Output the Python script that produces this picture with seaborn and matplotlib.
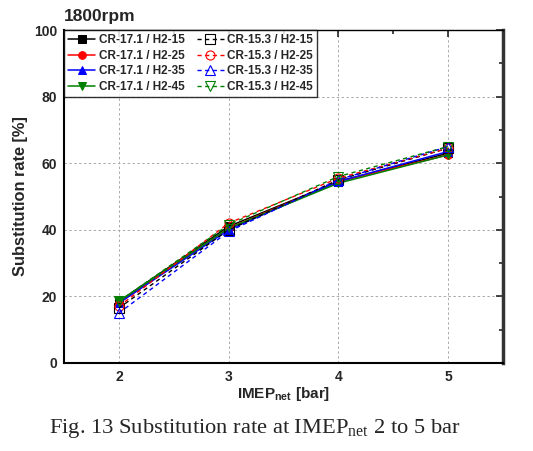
import numpy as np
import pandas as pd
import matplotlib
matplotlib.use("Agg")
import matplotlib.pyplot as plt
import seaborn as sns
from matplotlib.ticker import MultipleLocator

# IMEP_net [bar]
imep = [2, 3, 4, 5]

# substitution rate [%]
cr171_h15 = [18.5, 41.0, 54.5, 63.0]
cr171_h25 = [18.0, 40.5, 54.5, 62.5]
cr171_h35 = [18.0, 40.0, 54.5, 63.5]
cr171_h45 = [18.5, 40.5, 54.0, 62.5]
cr153_h15 = [16.5, 40.0, 55.0, 64.5]
cr153_h25 = [17.0, 42.0, 55.5, 64.5]
cr153_h35 = [15.0, 39.5, 55.0, 65.0]
cr153_h45 = [18.5, 41.5, 56.0, 65.0]

labels = ["CR-17.1 / H2-15", "CR-17.1 / H2-25", "CR-17.1 / H2-35", "CR-17.1 / H2-45",
          "CR-15.3 / H2-15", "CR-15.3 / H2-25", "CR-15.3 / H2-35", "CR-15.3 / H2-45"]
series = [cr171_h15, cr171_h25, cr171_h35, cr171_h45,
          cr153_h15, cr153_h25, cr153_h35, cr153_h45]
colors = ["black", "red", "blue", "green"]
markers = ["s", "o", "^", "v"]

sns.set_style("white")
plt.rcParams["font.family"] = ["Liberation Sans", "DejaVu Sans"]
plt.rcParams["font.weight"] = "bold"

fig = plt.figure(figsize=(5.33, 4.51), dpi=100)
ax = fig.add_axes([64 / 533, 1 - 363 / 451, (503 - 64) / 533, (363 - 30) / 451])

for i, (lab, vals) in enumerate(zip(labels, series)):
    c = colors[i % 4]
    m = markers[i % 4]
    df = pd.DataFrame({"imep": imep, "rate": vals})
    if i < 4:
        sns.lineplot(data=df, x="imep", y="rate", ax=ax, color=c, marker=m,
                     markersize=5.5, markerfacecolor=c, markeredgecolor=c,
                     linewidth=1.1, label=lab)
    else:
        sns.lineplot(data=df, x="imep", y="rate", ax=ax, color=c, marker=m,
                     markersize=6.5, markerfacecolor="none", markeredgecolor=c,
                     markeredgewidth=0.8, linewidth=1.0, linestyle=(0, (3, 2.5)),
                     label=lab)

ax.set_xlim(1.5, 5.5)
ax.set_ylim(0, 100)
ax.xaxis.set_major_locator(MultipleLocator(1))
ax.xaxis.set_minor_locator(MultipleLocator(0.5))
ax.yaxis.set_major_locator(MultipleLocator(20))
ax.yaxis.set_minor_locator(MultipleLocator(10))
ax.grid(True, which="major", color="#aaaaaa", linestyle=(0, (2.5, 2.5)), linewidth=0.7)
ax.tick_params(which="both", direction="in", top=True, right=True, labelsize=10,
               width=1.2, pad=5)
ax.tick_params(which="major", length=5)
ax.tick_params(which="minor", length=3)
for lbl in ax.get_xticklabels() + ax.get_yticklabels():
    lbl.set_fontweight("bold")
for sp in ax.spines.values():
    sp.set_color("black")
ax.spines["left"].set_linewidth(1.5)
ax.spines["bottom"].set_linewidth(1.5)
ax.spines["top"].set_linewidth(1.0)
ax.spines["right"].set_linewidth(2.5)
ax.spines["right"].set_color("#333333")

ax.set_xlabel(r"IMEP$_{\mathregular{net}}$ [bar]", fontsize=11, fontweight="bold",
              labelpad=1)
ax.set_ylabel("Substitution rate [%]", fontsize=11.8, fontweight="bold")
ax.yaxis.set_label_coords(-36 / 439, 0.5)

leg = ax.legend(ncol=2, loc="upper left", fontsize=8.5, frameon=True, fancybox=False,
                borderaxespad=0, handlelength=2.3, columnspacing=1.0,
                labelspacing=0.3, borderpad=0.35, handletextpad=0.3)
leg.get_frame().set_edgecolor("black")
leg.get_frame().set_linewidth(1.0)
for t in leg.get_texts():
    t.set_fontweight("bold")

fig.text(64 / 533, 1 - 17 / 451, "1800rpm", fontsize=12.5, fontweight="bold",
         va="center", ha="left")
fig.text(255 / 533, 1 - 429 / 451, r"Fig. 13 Substitution rate at IMEP$_{\mathregular{net}}$ 2 to 5 bar",
         fontsize=16.2, fontweight="normal", ha="center", va="center",
         family=["Liberation Serif", "DejaVu Serif"])

fig.savefig("out.png", dpi=100)
